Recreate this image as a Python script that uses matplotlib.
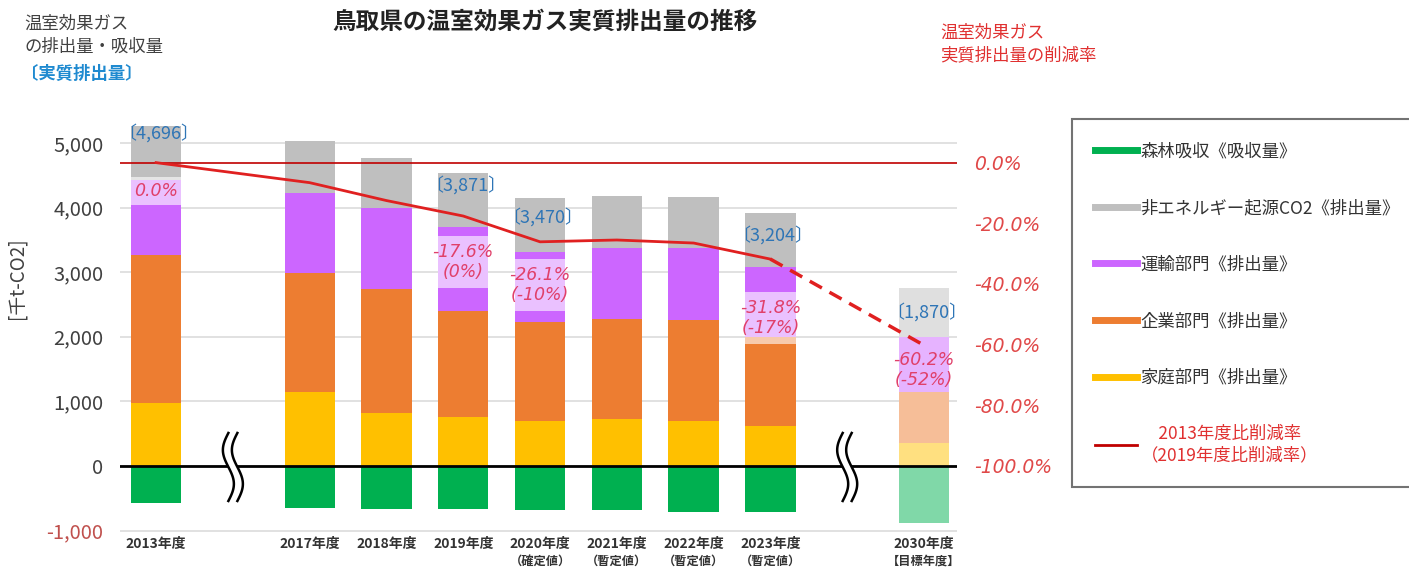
import matplotlib
matplotlib.use('Agg')
import matplotlib.pyplot as plt
import numpy as np
from matplotlib.lines import Line2D
from matplotlib.colors import to_rgba

plt.rcParams['font.family'] = ['Noto Sans CJK JP', 'DejaVu Sans']

# ---------------- data ----------------
years = ['2013年度', '2017年度', '2018年度', '2019年度', '2020年度',
         '2021年度', '2022年度', '2023年度', '2030年度']
sub_labels = ['', '', '', '', '（確定値）', '（暫定値）', '（暫定値）', '（暫定値）', '【目標年度】']
forest = [-573, -650, -666, -666, -681, -681, -707, -707, -887]
household = [980, 1150, 825, 753, 697, 722, 697, 619, 361]
business = [2286, 1842, 1915, 1651, 1537, 1554, 1563, 1383, 789]
transport = [1161, 1239, 1254, 1301, 1083, 1104, 1110, 1083, 850]
non_energy = [842, 805, 779, 832, 834, 800, 789, 826, 757]
net_emission = [4696, 4386, 4107, 3871, 3470, 3499, 3452, 3204, 1870]
reduction_rate = [0.0, -6.6, -12.5, -17.6, -26.1, -25.5, -26.5, -31.8, -60.2]
rate_labels = ['0.0%', '', '', '-17.6%\n(0%)', '-26.1%\n(-10%)', '', '', '-31.8%\n(-17%)', '-60.2%\n(-52%)']
net_shown = [True, False, False, True, True, False, False, True, True]
left_ticks = [-1000, 0, 1000, 2000, 3000, 4000, 5000]
right_ticks = [0, -20, -40, -60, -80, -100]

# ---------------- layout ----------------
W, H = 1409, 569
fig = plt.figure(figsize=(W / 100, H / 100), dpi=100)
ax_l, ax_r, ax_t, ax_b = 120, 957, 120.4, 533.8
ax = fig.add_axes([ax_l / W, 1 - ax_b / H, (ax_r - ax_l) / W, (ax_b - ax_t) / H])

x = np.array([0] + list(range(2, 9)) + [10], dtype=float)
breaks = [1, 9]
xlim = (-0.47, 10.43)
ylim = (-1050, 5350)
ax.set_xlim(*xlim)
ax.set_ylim(*ylim)
bw = 0.655

c_green, c_gray, c_purple, c_orange, c_yellow = '#00b050', '#bfbfbf', '#cc66ff', '#ed7d31', '#ffc000'
alphas = [1.0] * (len(years) - 1) + [0.5]


def cols(c):
    out = []
    for a in alphas:
        r, g, b, _ = to_rgba(c)
        out.append((1 - a + a * r, 1 - a + a * g, 1 - a + a * b, 1))
    return out


hh = np.array(household)
bu = np.array(business)
tr = np.array(transport)
ne = np.array(non_energy)
ax.bar(x, forest, width=bw, color=cols(c_green), zorder=2)
ax.bar(x, hh, width=bw, color=cols(c_yellow), zorder=2)
ax.bar(x, bu, bottom=hh, width=bw, color=cols(c_orange), zorder=2)
ax.bar(x, tr, bottom=hh + bu, width=bw, color=cols(c_purple), zorder=2)
ax.bar(x, ne, bottom=hh + bu + tr, width=bw, color=cols(c_gray), zorder=2)

ax.set_yticks(left_ticks)
ax.set_yticklabels([f'{v:,}' for v in left_ticks], fontsize=14.5)
for lab, v in zip(ax.get_yticklabels(), left_ticks):
    lab.set_color('#c0504d' if v < 0 else '#404040')
ax.grid(axis='y', color='#dcdcdc', lw=1.2)
ax.set_axisbelow(True)
ax.axhline(0, color='black', lw=2, zorder=3)
ax.tick_params(axis='y', length=0, pad=12)
ax.set_xticks(x)
ax.set_xticklabels(years, fontsize=10, fontweight='bold', color='#333333')
ax.tick_params(axis='x', length=0, pad=2)
for s in ax.spines.values():
    s.set_visible(False)

for xi, s in zip(x, sub_labels):
    if s:
        ax.annotate(s, xy=(xi, 0), xycoords=('data', 'axes fraction'), xytext=(0, -27),
                    textcoords='offset pixels', ha='center', va='center', fontsize=8.8,
                    fontweight='bold', color='#333333')

# break marks
px_x = (xlim[1] - xlim[0]) / (ax_r - ax_l)
px_y = (ylim[1] - ylim[0]) / (ax_b - ax_t)
t = np.linspace(0, 1, 60)
yy = (33 - 68 * t) * px_y
for b in breaks:
    xa = b + (-4.5 - 5.5 * np.sin(2 * np.pi * t)) * px_x
    xb = b + (4.5 - 5.5 * np.sin(2 * np.pi * t)) * px_x
    ax.fill_betweenx(yy, xa, xb, color='white', zorder=4, lw=0)
    ax.plot(xa, yy, color='black', lw=1.8, zorder=5)
    ax.plot(xb, yy, color='black', lw=1.8, zorder=5)

# rate labels with pale boxes
rate_label_y = {0: 4257, 3: 3158, 4: 2802, 7: 2290, 8: 1480}
for i, yc in rate_label_y.items():
    lab = rate_labels[i]
    nlines = lab.count('\n') + 1
    bh = 430 if nlines == 1 else 805
    if i != len(years) - 1:
        ax.bar(x[i], bh, bottom=yc - bh / 2, width=bw, color='white', alpha=0.6, zorder=2.5, lw=0)
    ax.text(x[i], yc, lab, ha='center', va='center', fontsize=12.5, color='#e0406a',
            family='DejaVu Sans', style='italic', linespacing=1.15, zorder=6)

# net labels
net_label_y = {0: 5150, 3: 4350, 4: 3850, 7: 3575, 8: 2385}
for i, yc in net_label_y.items():
    if net_shown[i]:
        ax.text(x[i] + 0.03, yc, f'〔{net_emission[i]:,}〕', ha='center', va='center', fontsize=13,
                color='#2e75b6', zorder=6)

# right axis
base = net_emission[0]
ax2 = ax.twinx()
ax2.set_ylim((ylim[0] / base - 1) * 100, (ylim[1] / base - 1) * 100)
ax2.set_yticks(right_ticks)
ax2.set_yticklabels([f'{v:.1f}%' for v in right_ticks], fontsize=13.5, color='#e04848',
                    family='DejaVu Sans', style='italic')
ax2.tick_params(axis='y', length=0, pad=12)
for s in ax2.spines.values():
    s.set_visible(False)
ax2.axhline(0, color='#c00000', lw=1.2, zorder=3)
ax2.plot(x[:-1], reduction_rate[:-1], color='#e02020', lw=2, zorder=4)
ax2.plot(x[-2:], reduction_rate[-2:], color='#e02020', lw=2.5, ls=(0, (4, 2.5)), zorder=4)

# texts
fig.text(545 / W, 1 - 22 / H, '鳥取県の温室効果ガス実質排出量の推移', ha='center', va='center',
         fontsize=17, fontweight='bold', color='#222222')
fig.text(24 / W, 1 - 35 / H, '温室効果ガス\nの排出量・吸収量', ha='left', va='center',
         fontsize=12.5, color='#404040', linespacing=1.35)
fig.text(21 / W, 1 - 74 / H, '〔実質排出量〕', ha='left', va='center', fontsize=12.5,
         color='#1f8ad0', fontweight='bold')
fig.text(940 / W, 1 - 44 / H, '温室効果ガス\n実質排出量の削減率', ha='left', va='center',
         fontsize=12.5, color='#e03030', linespacing=1.3)
fig.text(17 / W, 1 - 278 / H, '[千t-CO2]', rotation=90, ha='center', va='center',
         fontsize=13.5, color='#404040')

# legend
handles = [Line2D([0], [0], color=c_green, lw=5),
           Line2D([0], [0], color=c_gray, lw=5),
           Line2D([0], [0], color=c_purple, lw=5),
           Line2D([0], [0], color=c_orange, lw=5),
           Line2D([0], [0], color=c_yellow, lw=5),
           Line2D([0], [0], color='#c00000', lw=2)]
labels = ['森林吸収《吸収量》', '非エネルギー起源CO2《排出量》', '運輸部門《排出量》',
          '企業部門《排出量》', '家庭部門《排出量》', '　2013年度比削減率\n（2019年度比削減率）']
leg = fig.legend(handles, labels, loc='upper left', bbox_to_anchor=(1072 / W, 1 - 119 / H),
                 frameon=True, fancybox=False, edgecolor='#505050', fontsize=12.5,
                 handlelength=2.4, handletextpad=0.2, labelspacing=2.22, borderpad=1.35,
                 borderaxespad=0)
leg.get_frame().set_linewidth(1.5)
for txt in leg.get_texts():
    txt.set_color('#333333')
leg.get_texts()[-1].set_color('#e03030')

fig.savefig('out.png', dpi=100)
